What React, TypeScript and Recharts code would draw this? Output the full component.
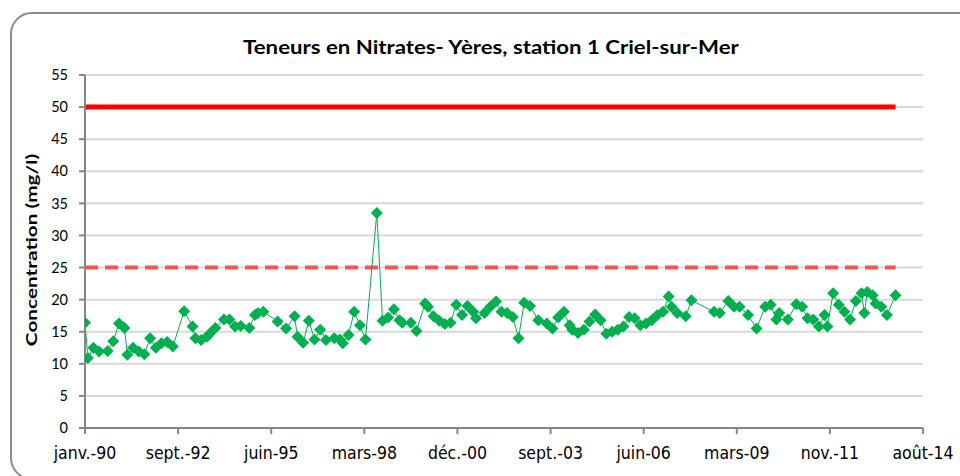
import { LineChart, Line, XAxis, YAxis, CartesianGrid } from "recharts";

// sampling dates (YYYY-MM) and nitrate concentrations (mg/l), station 1 Criel-sur-Mer
const dates = [
  "1990-01", "1990-02", "1990-04", "1990-06", "1990-09", "1990-11",
  "1991-01", "1991-03", "1991-04", "1991-06", "1991-08", "1991-10", "1991-12",
  "1992-02", "1992-04", "1992-06", "1992-08", "1992-12",
  "1993-03", "1993-04", "1993-06", "1993-08", "1993-09", "1993-11",
  "1994-02", "1994-04", "1994-06", "1994-08", "1994-11",
  "1995-01", "1995-02", "1995-04", "1995-09", "1995-12",
  "1996-03", "1996-04", "1996-06", "1996-08", "1996-10", "1996-12",
  "1997-02", "1997-05", "1997-07", "1997-08", "1997-10", "1997-12",
  "1998-02", "1998-04", "1998-08", "1998-10", "1998-12",
  "1999-02", "1999-04", "1999-05", "1999-08", "1999-10",
  "2000-01", "2000-02", "2000-04", "2000-06", "2000-08", "2000-10", "2000-12",
  "2001-02", "2001-04", "2001-06", "2001-07", "2001-10", "2001-12",
  "2002-02", "2002-04", "2002-06", "2002-08", "2002-10", "2002-12",
  "2003-02", "2003-05", "2003-08", "2003-10", "2003-12",
  "2004-02", "2004-04", "2004-05", "2004-07", "2004-09", "2004-11",
  "2005-01", "2005-03", "2005-05", "2005-07", "2005-09", "2005-11",
  "2006-01", "2006-03", "2006-05", "2006-07", "2006-09", "2006-11",
  "2007-01", "2007-03", "2007-04", "2007-06", "2007-09", "2007-11",
  "2008-07", "2008-09", "2008-12",
  "2009-02", "2009-04", "2009-07", "2009-10",
  "2010-01", "2010-03", "2010-05", "2010-06", "2010-09", "2010-12",
  "2011-02", "2011-04", "2011-06", "2011-08", "2011-10", "2011-11",
  "2012-01", "2012-03", "2012-05", "2012-07", "2012-09", "2012-11", "2012-12",
  "2013-01", "2013-03", "2013-04", "2013-06", "2013-08", "2013-11",
];

const nitrates = [
  16.4, 10.9, 12.5, 11.9, 12.0, 13.5,
  16.3, 15.6, 11.4, 12.5, 11.9, 11.5, 14.0,
  12.5, 13.2, 13.4, 12.7, 18.2,
  15.8, 14.0, 13.7, 14.2, 14.7, 15.6,
  16.9, 16.9, 15.8, 15.9, 15.6,
  17.6, 17.9, 18.1, 16.6, 15.5,
  17.4, 14.2, 13.3, 16.7, 13.8, 15.3,
  13.7, 14.0, 13.8, 13.2, 14.5, 18.1,
  16.0, 13.8, 33.5, 16.7, 17.2,
  18.5, 16.8, 16.4, 16.4, 15.1,
  19.4, 18.9, 17.4, 16.7, 16.2, 16.4, 19.2,
  17.6, 19.0, 18.1, 17.1, 17.9, 18.9,
  19.7, 18.1, 17.9, 17.3, 14.0, 19.5,
  19.0, 16.8, 16.3, 15.5, 17.2,
  18.1, 16.0, 15.3, 14.8, 15.3, 16.6,
  17.7, 16.8, 14.7, 15.0, 15.3, 15.8,
  17.3, 17.1, 16.0, 16.3, 16.8, 17.6,
  18.1, 20.5, 18.9, 17.9, 17.4, 19.9,
  18.1, 17.9, 19.8,
  18.9, 18.9, 17.6, 15.5,
  18.9, 19.2, 16.9, 17.9, 16.9, 19.3,
  18.9, 17.1, 16.9, 15.8, 17.6, 15.8,
  21.0, 19.2, 18.1, 16.9, 19.8, 21.0, 17.9,
  21.2, 20.7, 19.4, 18.9, 17.6, 20.7,
];

// thresholds: 50 mg/l limit, 25 mg/l guide value
const limitDates = ["1990-01", "2013-11"];
const limitValue = 50;
const guideValue = 25;

const xTickLabels = [
  "janv.-90", "sept.-92", "juin-95", "mars-98", "déc.-00",
  "sept.-03", "juin-06", "mars-09", "nov.-11", "août-14",
];
const yTicks = [0, 5, 10, 15, 20, 25, 30, 35, 40, 45, 50, 55];

// days since 1 Jan 1990 (Excel major unit = 1000 days)
const toDays = (s: string) => {
  const [y, m] = s.split("-").map(Number);
  return (Date.UTC(y, m - 1, 1) - Date.UTC(1990, 0, 1)) / 86400000;
};

const series = dates.map((d, i) => ({ t: toDays(d), v: nitrates[i] }));
const limit50 = limitDates.map((d) => ({ t: toDays(d), v: limitValue }));
const guide25 = limitDates.map((d) => ({ t: toDays(d), v: guideValue }));
const xTicks = xTickLabels.map((_, i) => i * 1000);

const Diamond = (props: any) => {
  const { cx, cy, index } = props;
  const r = 6;
  return (
    <polygon
      key={`d-${index}`}
      points={`${cx},${cy - r} ${cx + r},${cy} ${cx},${cy + r} ${cx - r},${cy}`}
      fill="#00b050"
    />
  );
};

export default function App() {
  return (
    <div style={{ position: "absolute", left: 0, top: 0, width: 960, height: 476, background: "#fff", overflow: "hidden" }}>
      <div
        style={{
          position: "absolute",
          left: 10,
          top: 12,
          width: 970,
          height: 468,
          border: "2px solid #8c8c8c",
          borderRadius: 22,
          boxSizing: "border-box",
        }}
      />
      <div
        style={{
          position: "absolute",
          top: 47,
          left: 491,
          transform: "translate(-50%, -50%) scaleX(1.2)",
          whiteSpace: "nowrap",
          fontFamily: "Lato, sans-serif",
          fontWeight: 700,
          fontSize: 18.5,
          color: "#000",
        }}
      >
        Teneurs en Nitrates- Yères, station 1 Criel-sur-Mer
      </div>
      <div
        style={{
          position: "absolute",
          left: 30,
          top: 250,
          transform: "translate(-50%, -50%) rotate(-90deg) scaleX(1.3)",
          whiteSpace: "nowrap",
          fontFamily: "Lato, sans-serif",
          fontWeight: 700,
          fontSize: 16,
          color: "#000",
        }}
      >
        Concentration (mg/l)
      </div>
      <LineChart
        width={960}
        height={476}
        margin={{ top: 75, right: 37, bottom: 8, left: 25 }}
        style={{ position: "absolute", left: 0, top: 0 }}
      >
        <CartesianGrid vertical={false} stroke="#d9d9d9" strokeWidth={2} />
        <XAxis
          type="number"
          dataKey="t"
          domain={[0, 9000]}
          ticks={xTicks}
          tickFormatter={(v: number) => xTickLabels[Math.round(v / 1000)]}
          height={40}
          stroke="#868686"
          strokeWidth={2}
          tickSize={6}
          tickMargin={13}
          tick={{ fill: "#000", fontSize: 17.5, fontFamily: "'Liberation Sans Narrow', 'DejaVu Sans Condensed', sans-serif" }}
          interval={0}
          allowDataOverflow
        />
        <YAxis
          type="number"
          domain={[0, 55]}
          ticks={yTicks}
          width={60}
          stroke="#868686"
          strokeWidth={2}
          tickSize={6}
          tickMargin={11}
          tick={{ fill: "#000", fontSize: 14.5, fontFamily: "Lato, sans-serif" }}
          interval={0}
        />
        <Line
          data={limit50}
          dataKey="v"
          stroke="#ff0000"
          strokeWidth={5}
          dot={false}
          isAnimationActive={false}
        />
        <Line
          data={guide25}
          dataKey="v"
          stroke="#ff5050"
          strokeWidth={4}
          strokeDasharray="13 7"
          dot={false}
          isAnimationActive={false}
        />
        <Line
          data={series}
          dataKey="v"
          stroke="#00b050"
          strokeWidth={1}
          dot={Diamond}
          activeDot={false}
          isAnimationActive={false}
        />
      </LineChart>
    </div>
  );
}
